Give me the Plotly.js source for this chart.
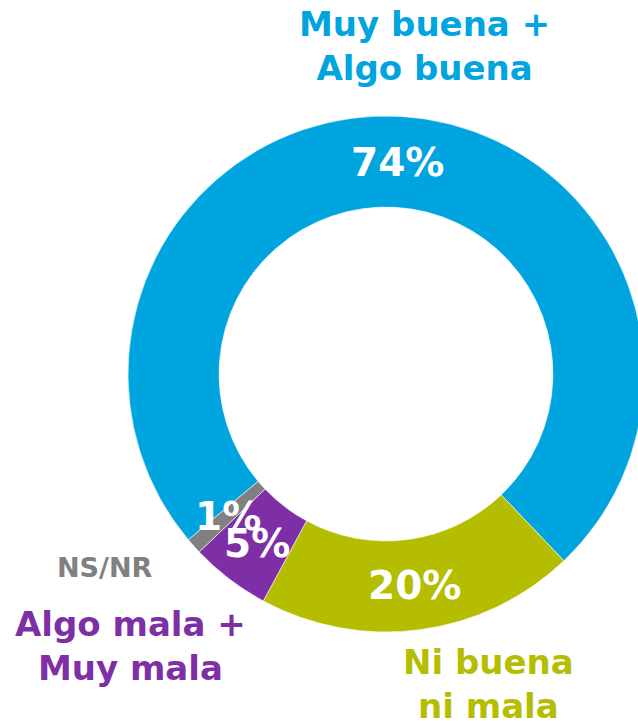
<!DOCTYPE html>
<html>
<head>
<meta charset="utf-8">
<script src="https://cdn.plot.ly/plotly-3.0.1.min.js"></script>
<style>
html,body{margin:0;padding:0;overflow:hidden;background:#fff;width:638px;height:721px;}
#chart{width:660px;height:721px;}
</style>
</head>
<body>
<div id="chart"></div>
<script>
// Data
const categories = ['Muy buena + Algo buena', 'Ni buena ni mala', 'Algo mala + Muy mala', 'NS/NR'];
const values = [74, 20, 5, 1];
const colors = ['#00a4de', '#b5bd00', '#7f2fa5', '#808080'];
const labelLines = [
  ['Muy buena +', 'Algo buena'],
  ['Ni buena', 'ni mala'],
  ['Algo mala +', 'Muy mala'],
  ['NS/NR']
];

const W = 660, H = 721;
const FONT = 'DejaVu Sans, sans-serif';
const px = x => x / W;
const py = y => 1 - y / H;

// pie geometry (pixels)
const CX = 386, CY = 374, R = 258, HOLE = 0.647, ROT = 230;

// category label positions (pixel centres) and sizes
const labelPos = [
  {x: 424, y: 46, size: 34},
  {x: 488, y: 684, size: 34},
  {x: 130, y: 646, size: 34},
  {x: 105, y: 567, size: 27}
];

const annotations = categories.map((c, i) => ({
  xref: 'paper', yref: 'paper',
  x: px(labelPos[i].x), y: py(labelPos[i].y),
  xanchor: 'center', yanchor: 'middle',
  text: labelLines[i].join('<br>'),
  showarrow: false,
  font: {family: FONT, size: labelPos[i].size, color: colors[i], weight: 700},
  align: 'center'
}));

// percentage labels placed at each slice's mid-angle on the ring's mid radius
const total = values.reduce((a, b) => a + b, 0);
let cum = 0;
const midR = R * (1 + HOLE) / 2;
values.forEach((v, i) => {
  const ang = (ROT + (cum + v / 2) / total * 360) * Math.PI / 180;
  cum += v;
  const x = CX + midR * Math.sin(ang);
  const y = CY - midR * Math.cos(ang) + 1;
  annotations.push({
    xref: 'paper', yref: 'paper', x: px(x), y: py(y),
    xanchor: 'center', yanchor: 'middle', showarrow: false,
    text: v + '%',
    font: {family: FONT, size: 39, color: '#ffffff', weight: 700}
  });
});

const trace = {
  type: 'pie',
  labels: categories,
  values: values,
  hole: HOLE,
  sort: false,
  direction: 'clockwise',
  rotation: ROT,
  marker: {colors: colors, line: {color: '#ffffff', width: 0.6}},
  textinfo: 'none',
  domain: {x: [px(CX - R), px(CX + R)], y: [py(CY + R), py(CY - R)]},
  showlegend: false,
  hoverinfo: 'label+percent'
};

const layout = {
  width: W, height: H,
  margin: {l: 0, r: 0, t: 0, b: 0},
  paper_bgcolor: '#ffffff',
  plot_bgcolor: '#ffffff',
  showlegend: false,
  annotations: annotations
};

Plotly.newPlot('chart', [trace], layout, {displayModeBar: false, staticPlot: true});
</script>
</body>
</html>
